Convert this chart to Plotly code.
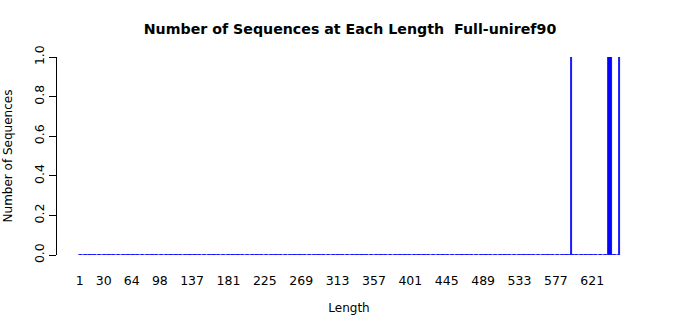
import plotly.graph_objects as go

# Data
max_length = 654
nonzero_lengths = [596, 641, 642, 643, 644, 654]
nonzero_counts = [1, 1, 1, 1, 1, 1]
tick_labels = [1, 30, 64, 98, 137, 181, 225, 269, 313, 357, 401, 445, 489, 533, 577, 621]
y_ticks = [0.0, 0.2, 0.4, 0.6, 0.8, 1.0]

lengths = list(range(1, max_length + 1))
count_map = dict(zip(nonzero_lengths, nonzero_counts))
counts = [count_map.get(L, 0) for L in lengths]

BLUE = "#0000ff"
FONT = "DejaVu Sans"

fig = go.Figure()
# baseline formed by zero-height bars
fig.add_trace(go.Scatter(x=lengths, y=[0 * c for c in counts], mode="lines",
                         line=dict(color=BLUE, width=1.2), hoverinfo="skip",
                         showlegend=False))
fig.add_trace(go.Bar(x=lengths, y=counts, width=0.7,
                     marker=dict(color=BLUE, line=dict(color=BLUE, width=0.8)),
                     showlegend=False))

fig.update_layout(
    width=700, height=315,
    margin=dict(l=57, r=59, t=57, b=60),
    plot_bgcolor="white", paper_bgcolor="white",
    font=dict(family=FONT, size=12, color="black"),
    bargap=0,
    title=dict(text="<b>Number of Sequences at Each Length  Full-uniref90</b>",
               x=0.5, xanchor="center", y=0.908, yanchor="middle",
               font=dict(family=FONT, size=14.2, color="black")),
    xaxis=dict(range=[-26.4, 680], tickmode="array", tickvals=tick_labels,
               ticktext=[str(t) for t in tick_labels], showgrid=False,
               zeroline=False, showline=False, ticks="outside", ticklen=14,
               tickcolor="rgba(0,0,0,0)", tickfont=dict(size=12.5),
               automargin=False,
               title=dict(text="Length", font=dict(size=12), standoff=20)),
    yaxis=dict(range=[0, 1], tickmode="array", tickvals=y_ticks,
               ticktext=[f"{v:.1f}" for v in y_ticks], showgrid=False,
               zeroline=False, showline=True, linecolor="black", linewidth=1,
               ticks="outside", ticklen=7, tickcolor="black", tickangle=-90,
               tickfont=dict(size=12.5), automargin=False,
               title=dict(text="Number of Sequences", font=dict(size=12), standoff=16)),
)

fig.write_html("out.html")
